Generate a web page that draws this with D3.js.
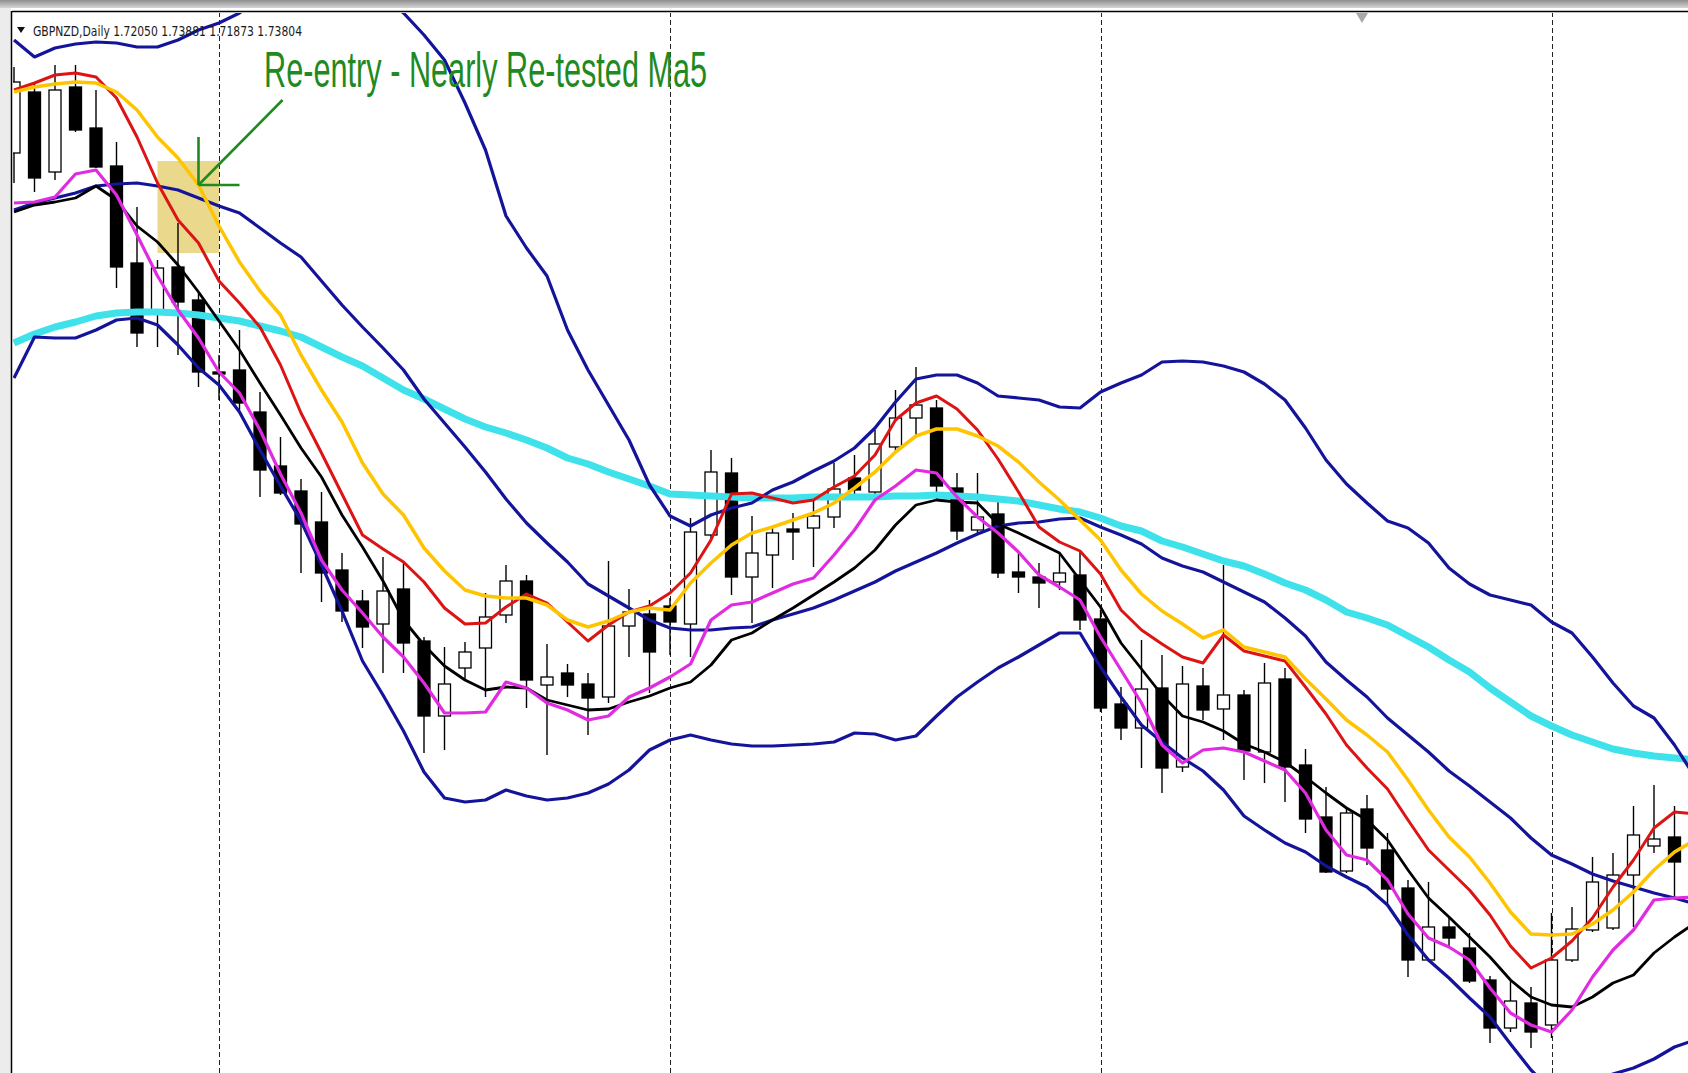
<!DOCTYPE html>
<html>
<head>
<meta charset="utf-8">
<script src="https://cdn.jsdelivr.net/npm/d3@7/dist/d3.min.js"></script>
<style>
  body { margin: 0; background: #fff; }
  svg { display: block; }
</style>
</head>
<body>
<svg id="chart" width="1688" height="1073"></svg>
<script>
// GBPNZD daily candles, bar 0 = first bar after the first period separator
var firstBar = -10;
var separatorBars = [0, 22, 43, 65];

var open = [
  1.8847, 1.8908, 1.8828, 1.8913, 1.8872, 1.8834, 1.8737, 1.8687, 1.8733, 1.8700,
  1.8628, 1.8630, 1.8588, 1.8534, 1.8509, 1.8478, 1.8430, 1.8399, 1.8376, 1.8411,
  1.8359, 1.8284, 1.8332, 1.8352, 1.8385, 1.8419, 1.8315, 1.8327, 1.8316, 1.8303,
  1.8374, 1.8386, 1.8394, 1.8376, 1.8465, 1.8527, 1.8423, 1.8445, 1.8471, 1.8472,
  1.8483, 1.8522, 1.8508, 1.8553, 1.8582, 1.8592, 1.8512, 1.8470, 1.8486, 1.8428,
  1.8423, 1.8418, 1.8425, 1.8381, 1.8296, 1.8272, 1.8312, 1.8233, 1.8314, 1.8291,
  1.8305, 1.8248, 1.8321, 1.8235, 1.8183, 1.8129, 1.8191, 1.8150, 1.8112, 1.8040,
  1.8073, 1.8052, 1.8020, 1.7972, 1.7997, 1.7975, 1.8040, 1.8070, 1.8072, 1.8125,
  1.8154, 1.8163
];
var high = [
  1.8933, 1.8918, 1.8935, 1.8935, 1.8910, 1.8858, 1.8793, 1.8740, 1.8777, 1.8707,
  1.8645, 1.8670, 1.8608, 1.8563, 1.8521, 1.8508, 1.8447, 1.8410, 1.8443, 1.8437,
  1.8363, 1.8353, 1.8358, 1.8407, 1.8435, 1.8425, 1.8356, 1.8336, 1.8327, 1.8439,
  1.8411, 1.8400, 1.8402, 1.8482, 1.8550, 1.8542, 1.8484, 1.8473, 1.8487, 1.8503,
  1.8537, 1.8545, 1.8570, 1.8610, 1.8633, 1.8600, 1.8527, 1.8527, 1.8498, 1.8447,
  1.8437, 1.8447, 1.8448, 1.8390, 1.8313, 1.8360, 1.8345, 1.8334, 1.8332, 1.8435,
  1.8310, 1.8337, 1.8332, 1.8251, 1.8213, 1.8192, 1.8205, 1.8167, 1.8120, 1.8118,
  1.8082, 1.8067, 1.8024, 1.8020, 1.8013, 1.8087, 1.8093, 1.8143, 1.8147, 1.8194,
  1.8215, 1.8194
];
var low = [
  1.8817, 1.8808, 1.8820, 1.8868, 1.8832, 1.8712, 1.8653, 1.8653, 1.8645, 1.8613,
  1.8600, 1.8590, 1.8503, 1.8505, 1.8427, 1.8398, 1.8378, 1.8352, 1.8327, 1.8327,
  1.8247, 1.8250, 1.8320, 1.8303, 1.8377, 1.8292, 1.8245, 1.8303, 1.8265, 1.8297,
  1.8343, 1.8307, 1.8345, 1.8343, 1.8459, 1.8405, 1.8377, 1.8412, 1.8440, 1.8433,
  1.8472, 1.8500, 1.8503, 1.8548, 1.8565, 1.8500, 1.8460, 1.8467, 1.8422, 1.8407,
  1.8392, 1.8410, 1.8370, 1.8288, 1.8260, 1.8232, 1.8207, 1.8228, 1.8280, 1.8260,
  1.8220, 1.8217, 1.8198, 1.8167, 1.8127, 1.8127, 1.8135, 1.8093, 1.8023, 1.8038,
  1.8053, 1.8017, 1.7957, 1.7968, 1.7952, 1.7962, 1.8038, 1.8068, 1.8070, 1.8073,
  1.8147, 1.8102
];
var close = [
  1.8918, 1.8822, 1.8910, 1.8870, 1.8833, 1.8733, 1.8667, 1.8732, 1.8698, 1.8628,
  1.8626, 1.8597, 1.8530, 1.8507, 1.8476, 1.8427, 1.8389, 1.8373, 1.8409, 1.8357,
  1.8284, 1.8316, 1.8348, 1.8383, 1.8419, 1.8320, 1.8323, 1.8315, 1.8302, 1.8374,
  1.8388, 1.8348, 1.8378, 1.8468, 1.8528, 1.8423, 1.8447, 1.8467, 1.8468, 1.8484,
  1.8511, 1.8510, 1.8556, 1.8582, 1.8595, 1.8514, 1.8469, 1.8483, 1.8427, 1.8423,
  1.8417, 1.8427, 1.8380, 1.8292, 1.8272, 1.8311, 1.8232, 1.8316, 1.8290, 1.8305,
  1.8249, 1.8317, 1.8233, 1.8181, 1.8128, 1.8187, 1.8152, 1.8111, 1.8040, 1.8073,
  1.8062, 1.8019, 1.7972, 1.7999, 1.7968, 1.8040, 1.8071, 1.8118, 1.8125, 1.8165,
  1.8161, 1.8138
];

// indicator lines, one value per bar from firstBar (null = not plotted);
// they run one bar further than the candles, past the right edge
var bandUpper = [
  1.8960, 1.8943, 1.8952, 1.8956, 1.8958, 1.8957, 1.8953, 1.8953, 1.8960, 1.8970,
  1.8977, 1.8987, 1.9002, null, null, null, null, null, 1.9003, 1.8987,
  1.8965, 1.8940, 1.8897, 1.8850, 1.8784, 1.8752, 1.8724, 1.8670, 1.8630, 1.8595,
  1.8560, 1.8515, 1.8484, 1.8474, 1.8485, 1.8492, 1.8497, 1.8510, 1.8518, 1.8529,
  1.8539, 1.8552, 1.8572, 1.8598, 1.8621, 1.8625, 1.8625, 1.8617, 1.8604, 1.8602,
  1.8600, 1.8593, 1.8592, 1.8608, 1.8617, 1.8625, 1.8638, 1.8639, 1.8638, 1.8634,
  1.8628, 1.8616, 1.8600, 1.8572, 1.8540, 1.8516, 1.8497, 1.8479, 1.8472, 1.8457,
  1.8432, 1.8416, 1.8405, 1.8400, 1.8395, 1.8378, 1.8367, 1.8343, 1.8317, 1.8294,
  1.8282, 1.8255, 1.8223
];
var bandMiddle = [
  1.8790, 1.8797, 1.8802, 1.8807, 1.8814, 1.8816, 1.8817, 1.8814, 1.8810, 1.8802,
  1.8794, 1.8787, 1.8772, 1.8757, 1.8743, 1.8719, 1.8695, 1.8673, 1.8652, 1.8630,
  1.8601, 1.8577, 1.8553, 1.8528, 1.8501, 1.8477, 1.8457, 1.8438, 1.8416, 1.8404,
  1.8392, 1.8380, 1.8372, 1.8370, 1.8370, 1.8372, 1.8373, 1.8380, 1.8386, 1.8392,
  1.8400, 1.8409, 1.8418, 1.8429, 1.8438, 1.8447, 1.8457, 1.8466, 1.8474, 1.8477,
  1.8478, 1.8481, 1.8482, 1.8473, 1.8465, 1.8456, 1.8442, 1.8434, 1.8428, 1.8418,
  1.8408, 1.8398, 1.8382, 1.8364, 1.8338, 1.8320, 1.8303, 1.8282, 1.8265, 1.8248,
  1.8229, 1.8214, 1.8198, 1.8182, 1.8162, 1.8145, 1.8136, 1.8126, 1.8119, 1.8113,
  1.8107, 1.8102, 1.8096
];
var bandLower = [
  1.8622, 1.8663, 1.8662, 1.8662, 1.8670, 1.8680, 1.8682, 1.8675, 1.8655, 1.8632,
  1.8615, 1.8588, 1.8550, 1.8514, 1.8479, 1.8435, 1.8389, 1.8339, 1.8305, 1.8269,
  1.8228, 1.8202, 1.8198, 1.8200, 1.8210, 1.8204, 1.8200, 1.8202, 1.8207, 1.8216,
  1.8230, 1.8250, 1.8260, 1.8265, 1.8260, 1.8256, 1.8254, 1.8254, 1.8255, 1.8256,
  1.8258, 1.8267, 1.8266, 1.8260, 1.8264, 1.8284, 1.8303, 1.8318, 1.8332, 1.8343,
  1.8355, 1.8367, 1.8367, 1.8333, 1.8303, 1.8275, 1.8258, 1.8242, 1.8229, 1.8210,
  1.8184, 1.8170, 1.8157, 1.8148, 1.8134, 1.8123, 1.8113, 1.8095, 1.8065, 1.8040,
  1.8022, 1.8002, 1.7983, 1.7956, 1.7930, 1.7910, 1.7908, 1.7918, 1.7926, 1.7932,
  1.7941, 1.7953, 1.7960
];
var maCyan = [
  1.8657, 1.8666, 1.8673, 1.8678, 1.8684, 1.8687, 1.8688, 1.8688, 1.8687, 1.8685,
  1.8682, 1.8679, 1.8674, 1.8669, 1.8663, 1.8653, 1.8643, 1.8634, 1.8622, 1.8610,
  1.8601, 1.8591, 1.8581, 1.8573, 1.8567, 1.8560, 1.8552, 1.8542, 1.8536, 1.8528,
  1.8521, 1.8514, 1.8506, 1.8505, 1.8504, 1.8503, 1.8502, 1.8502, 1.8502, 1.8503,
  1.8503, 1.8503, 1.8503, 1.8504, 1.8504, 1.8505, 1.8504, 1.8503, 1.8501, 1.8499,
  1.8495, 1.8491, 1.8488, 1.8482, 1.8474, 1.8469, 1.8459, 1.8453, 1.8446, 1.8439,
  1.8434, 1.8426, 1.8417, 1.8410, 1.8400, 1.8388, 1.8382, 1.8375, 1.8364, 1.8353,
  1.8340, 1.8328, 1.8312, 1.8298, 1.8284, 1.8274, 1.8265, 1.8258, 1.8251, 1.8247,
  1.8244, 1.8242, 1.8240
];
var maGold = [
  1.8908, 1.8913, 1.8916, 1.8918, 1.8917, 1.8908, 1.8890, 1.8863, 1.8842, 1.8815,
  1.8774, 1.8738, 1.8709, 1.8685, 1.8645, 1.8610, 1.8578, 1.8537, 1.8506, 1.8485,
  1.8452, 1.8429, 1.8410, 1.8404, 1.8402, 1.8402, 1.8395, 1.8380, 1.8373, 1.8379,
  1.8388, 1.8392, 1.8390, 1.8417, 1.8437, 1.8455, 1.8467, 1.8473, 1.8480, 1.8487,
  1.8497, 1.8512, 1.8528, 1.8548, 1.8564, 1.8571, 1.8571, 1.8564, 1.8554, 1.8538,
  1.8518, 1.8500, 1.8480, 1.8460, 1.8430, 1.8406, 1.8389, 1.8376, 1.8362, 1.8370,
  1.8353, 1.8348, 1.8343, 1.8321, 1.8301, 1.8280, 1.8265, 1.8248, 1.8220, 1.8190,
  1.8163, 1.8143, 1.8117, 1.8088, 1.8066, 1.8065, 1.8066, 1.8076, 1.8090, 1.8108,
  1.8130, 1.8148, 1.8160
];
var maRed = [
  1.8910, 1.8917, 1.8925, 1.8927, 1.8923, 1.8902, 1.8863, 1.8817, 1.8780, 1.8757,
  1.8719, 1.8697, 1.8673, 1.8635, 1.8587, 1.8547, 1.8506, 1.8465, 1.8451, 1.8438,
  1.8418, 1.8392, 1.8376, 1.8377, 1.8393, 1.8406, 1.8397, 1.8378, 1.8359, 1.8375,
  1.8388, 1.8394, 1.8407, 1.8427, 1.8460, 1.8506, 1.8507, 1.8502, 1.8497, 1.8500,
  1.8513, 1.8524, 1.8545, 1.8580, 1.8597, 1.8604, 1.8591, 1.8570, 1.8541, 1.8508,
  1.8473, 1.8458, 1.8449, 1.8426, 1.8390, 1.8370, 1.8356, 1.8343, 1.8337, 1.8365,
  1.8349, 1.8344, 1.8339, 1.8313, 1.8286, 1.8255, 1.8232, 1.8211, 1.8180, 1.8150,
  1.8130, 1.8110, 1.8085, 1.8054, 1.8032, 1.8042, 1.8059, 1.8082, 1.8113, 1.8140,
  1.8172, 1.8188, 1.8186
];
var maBlack = [
  1.8788, 1.8795, 1.8798, 1.8802, 1.8814, 1.8800, 1.8774, 1.8758, 1.8735, 1.8708,
  1.8679, 1.8650, 1.8617, 1.8585, 1.8552, 1.8523, 1.8485, 1.8453, 1.8419, 1.8380,
  1.8355, 1.8334, 1.8320, 1.8310, 1.8313, 1.8312, 1.8300, 1.8295, 1.8290, 1.8291,
  1.8298, 1.8304, 1.8312, 1.8318, 1.8335, 1.8360, 1.8367, 1.8380, 1.8392, 1.8405,
  1.8418, 1.8432, 1.8450, 1.8475, 1.8495, 1.8500, 1.8498, 1.8497, 1.8476, 1.8467,
  1.8457, 1.8447, 1.8420, 1.8393, 1.8357, 1.8331, 1.8305, 1.8284, 1.8278, 1.8269,
  1.8256, 1.8248, 1.8238, 1.8223, 1.8207, 1.8192, 1.8180, 1.8160, 1.8130, 1.8102,
  1.8083, 1.8063, 1.8043, 1.8020, 1.8003, 1.7995, 1.7993, 1.8003, 1.8017, 1.8025,
  1.8047, 1.8063, 1.8077
];
var maMagenta = [
  1.8797, 1.8798, 1.8803, 1.8826, 1.8830, 1.8805, 1.8765, 1.8724, 1.8690, 1.8662,
  1.8628, 1.8607, 1.8570, 1.8526, 1.8487, 1.8440, 1.8410, 1.8387, 1.8363, 1.8343,
  1.8317, 1.8287, 1.8287, 1.8288, 1.8318, 1.8312, 1.8297, 1.8290, 1.8280, 1.8284,
  1.8303, 1.8312, 1.8323, 1.8336, 1.8380, 1.8395, 1.8398, 1.8407, 1.8416, 1.8422,
  1.8445, 1.8470, 1.8500, 1.8514, 1.8530, 1.8527, 1.8503, 1.8483, 1.8467, 1.8448,
  1.8425, 1.8413, 1.8400, 1.8363, 1.8330, 1.8297, 1.8255, 1.8237, 1.8250, 1.8252,
  1.8248, 1.8239, 1.8230, 1.8207, 1.8170, 1.8145, 1.8140, 1.8120, 1.8086, 1.8062,
  1.8053, 1.8040, 1.8012, 1.7987, 1.7975, 1.7968, 1.7990, 1.8023, 1.8050, 1.8070,
  1.8100, 1.8102, 1.8103
];

// chart objects placed by the trader (bar, price)
var boxBars = [-3, 0], boxPrices = [1.8839, 1.8747];
var arrowFrom = [3.1, 1.8900], arrowTo = [-1, 1.8815];
var arrowHeadTop = 1.8863, arrowHeadRight = 1;
var noteBar = 2.2, notePrice = 1.8913;
var noteText = 'Re-entry - Nearly Re-tested Ma5';
var headerText = 'GBPNZD,Daily  1.72050 1.73881 1.71873 1.73804';

var bars = d3.range(firstBar, firstBar + open.length);

var width = 1688,
    height = 1073,
    frameLeft = 12,
    frameTop = 12,
    bodyWidth = 12;

var x = d3.scaleLinear().domain([-10, 71]).range([14, 1674.5]);
var y = d3.scaleLinear().domain([1.9000, 1.7927]).range([0, 1073]);

var svg = d3.select('#chart');
var defs = svg.append('defs');

var grad = defs.append('linearGradient')
    .attr('id', 'chrome')
    .attr('x1', 0).attr('y1', 0).attr('x2', 0).attr('y2', 1);
grad.append('stop').attr('offset', '0%').attr('stop-color', '#8e8e8e');
grad.append('stop').attr('offset', '100%').attr('stop-color', '#d6d6d6');

defs.append('clipPath')
    .attr('id', 'plot-clip')
    .append('rect')
    .attr('x', frameLeft + 1)
    .attr('y', frameTop + 1)
    .attr('width', width - frameLeft)
    .attr('height', height - frameTop);

svg.append('rect')
    .attr('width', width)
    .attr('height', height)
    .attr('fill', '#fff');

// window chrome
svg.append('rect')
    .attr('x', 0).attr('y', 0)
    .attr('width', width).attr('height', 8)
    .attr('fill', 'url(#chrome)');
svg.append('rect')
    .attr('x', 0).attr('y', 8)
    .attr('width', frameLeft - 1).attr('height', height - 8)
    .attr('fill', '#ececec');
svg.append('line')
    .attr('x1', frameLeft).attr('x2', width)
    .attr('y1', frameTop - 0.5).attr('y2', frameTop - 0.5)
    .attr('stroke', '#000').attr('stroke-width', 1.5);
svg.append('line')
    .attr('x1', frameLeft - 0.5).attr('x2', frameLeft - 0.5)
    .attr('y1', frameTop - 1).attr('y2', height)
    .attr('stroke', '#000').attr('stroke-width', 1.5);

var plot = svg.append('g').attr('clip-path', 'url(#plot-clip)');

// highlighted zone sits behind everything
plot.append('rect')
    .attr('x', x(boxBars[0]))
    .attr('y', y(boxPrices[0]))
    .attr('width', x(boxBars[1]) - x(boxBars[0]))
    .attr('height', y(boxPrices[1]) - y(boxPrices[0]))
    .attr('fill', '#ead88c');

plot.selectAll('line.separator')
    .data(separatorBars)
    .enter().append('line')
    .attr('class', 'separator')
    .attr('x1', function(d) { return Math.round(x(d)) + 0.5; })
    .attr('x2', function(d) { return Math.round(x(d)) + 0.5; })
    .attr('y1', frameTop)
    .attr('y2', height)
    .attr('stroke', '#222')
    .attr('stroke-width', 1)
    .attr('stroke-dasharray', '5,3');

var candleData = bars.map(function(b, i) {
    return { bar: b, o: open[i], h: high[i], l: low[i], c: close[i] };
});

var candles = plot.selectAll('g.candle')
    .data(candleData)
    .enter().append('g')
    .attr('class', 'candle');

candles.append('line')
    .attr('x1', function(d) { return x(d.bar); })
    .attr('x2', function(d) { return x(d.bar); })
    .attr('y1', function(d) { return y(d.h); })
    .attr('y2', function(d) { return y(d.l); })
    .attr('stroke', '#000')
    .attr('stroke-width', 1.4);

candles.append('rect')
    .attr('x', function(d) { return x(d.bar) - bodyWidth / 2; })
    .attr('y', function(d) { return y(Math.max(d.o, d.c)); })
    .attr('width', bodyWidth)
    .attr('height', function(d) { return Math.max(1, Math.abs(y(d.o) - y(d.c))); })
    .attr('fill', function(d) { return d.c > d.o ? '#fff' : '#000'; })
    .attr('stroke', '#000')
    .attr('stroke-width', 1.3);

var series = [
    { values: maCyan, color: '#3fe2ea', width: 7 },
    { values: bandUpper, color: '#14149a', width: 3.2 },
    { values: bandMiddle, color: '#14149a', width: 3.2 },
    { values: bandLower, color: '#14149a', width: 3.2 },
    { values: maRed, color: '#dd1414', width: 3 },
    { values: maGold, color: '#ffc400', width: 3.5 },
    { values: maBlack, color: '#000000', width: 2.8 },
    { values: maMagenta, color: '#e02be0', width: 3.2 }
];

var lineGen = d3.line()
    .defined(function(d) { return d != null; })
    .x(function(d, i) { return x(firstBar + i); })
    .y(function(d) { return y(d); });

plot.selectAll('path.indicator')
    .data(series)
    .enter().append('path')
    .attr('class', 'indicator')
    .attr('d', function(s) { return lineGen(s.values); })
    .attr('fill', 'none')
    .attr('stroke', function(s) { return s.color; })
    .attr('stroke-width', function(s) { return s.width; })
    .attr('stroke-linejoin', 'round');

// annotation
var green = '#1f8a1f';
var note = plot.append('g').attr('class', 'annotation');

note.append('line')
    .attr('x1', x(arrowFrom[0])).attr('y1', y(arrowFrom[1]))
    .attr('x2', x(arrowTo[0])).attr('y2', y(arrowTo[1]))
    .attr('stroke', green).attr('stroke-width', 2.6);
note.append('line')
    .attr('x1', x(arrowTo[0])).attr('y1', y(arrowTo[1]))
    .attr('x2', x(arrowTo[0])).attr('y2', y(arrowHeadTop))
    .attr('stroke', green).attr('stroke-width', 2.6);
note.append('line')
    .attr('x1', x(arrowTo[0])).attr('y1', y(arrowTo[1]))
    .attr('x2', x(arrowHeadRight)).attr('y2', y(arrowTo[1]))
    .attr('stroke', green).attr('stroke-width', 2.6);

note.append('text')
    .attr('x', x(noteBar))
    .attr('y', y(notePrice))
    .attr('font-family', '"Liberation Sans Narrow", "Arial Narrow", "Liberation Sans", Arial, sans-serif')
    .attr('font-size', 50)
    .attr('textLength', 443)
    .attr('lengthAdjust', 'spacingAndGlyphs')
    .attr('fill', green)
    .text(noteText);

// header line
svg.append('path')
    .attr('d', 'M17,27 L25,27 L21,33 Z')
    .attr('fill', '#111');
svg.append('text')
    .attr('x', 33)
    .attr('y', 36)
    .attr('font-family', 'Tahoma, "DejaVu Sans Condensed", "DejaVu Sans", sans-serif')
    .attr('font-size', 14)
    .attr('textLength', 269)
    .attr('lengthAdjust', 'spacingAndGlyphs')
    .attr('fill', '#1a1a1a')
    .text(headerText);

// chart shift marker
svg.append('path')
    .attr('d', 'M1356,13 L1368,13 L1362,23 Z')
    .attr('fill', '#a9a9a9');
</script>
</body>
</html>
